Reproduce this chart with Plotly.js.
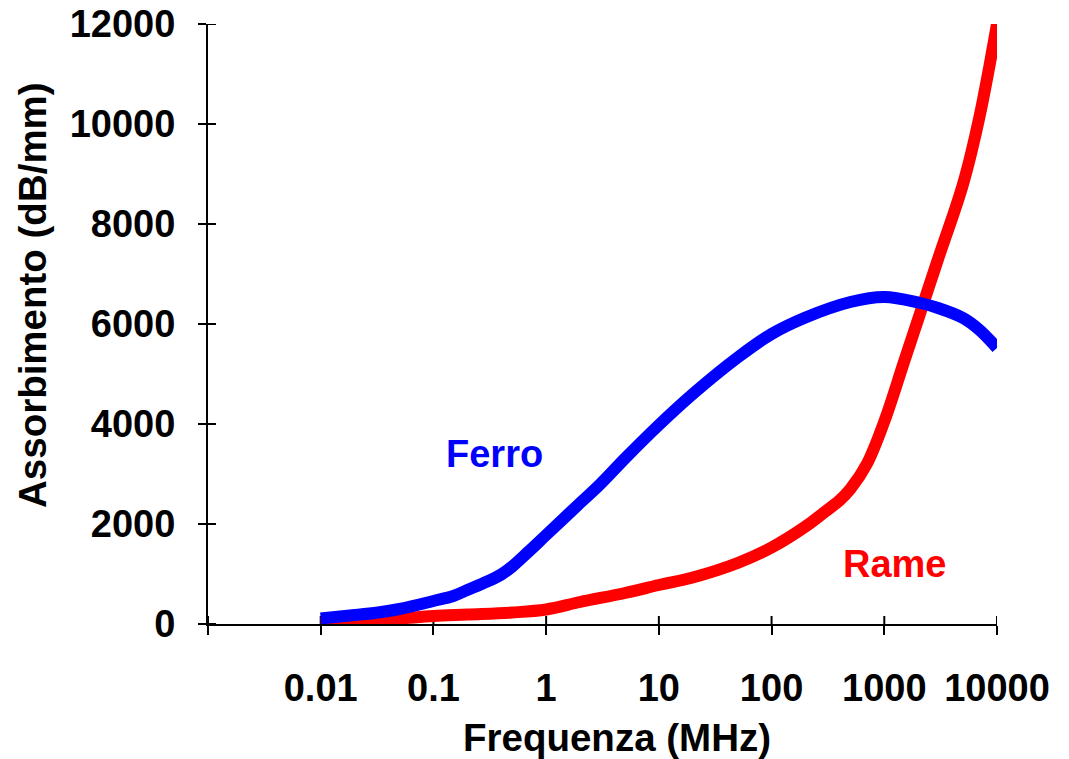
<!DOCTYPE html>
<html>
<head>
<meta charset="utf-8">
<script src="https://cdn.plot.ly/plotly-3.0.1.min.js"></script>
<style>html,body{margin:0;padding:0;background:#fff;}#chart{width:1069px;height:759px;}</style>
</head>
<body>
<div id="chart"></div>
<script>
// Frequency (MHz) and absorption (dB/mm)
var freqFerro = [0.01, 0.02, 0.03, 0.05, 0.1, 0.15, 0.2, 0.3, 0.4, 0.5, 0.7, 1, 2, 3, 5, 10, 20, 50, 100, 200, 500, 1000, 2000, 3000, 5000, 7000, 10000];
var ferro     = [110, 180, 220, 300, 460, 560, 680, 850, 990, 1150, 1450, 1780, 2420, 2790, 3310, 3980, 4600, 5330, 5800, 6130, 6440, 6540, 6430, 6320, 6120, 5880, 5520];

var freqRame = [0.01, 0.02, 0.05, 0.1, 0.2, 0.5, 1, 2, 5, 10, 20, 50, 100, 200, 300, 400, 500, 700, 1000, 1500, 2000, 3000, 5000, 7000, 10000];
var rame     = [20, 50, 110, 160, 190, 230, 290, 440, 620, 780, 930, 1220, 1530, 1950, 2250, 2470, 2700, 3200, 4050, 5250, 6100, 7300, 8800, 10150, 12000];

var xTickVals = [0.001, 0.01, 0.1, 1, 10, 100, 1000, 10000];
var xTickText = ['', '0.01', '0.1', '1', '10', '100', '1000', '10000'];
var yTickVals = [0, 2000, 4000, 6000, 8000, 10000, 12000];
var yTickText = ['0', '2000', '4000', '6000', '8000', '10000', '12000'];

var seriesNames = ['Ferro', 'Rame'];
var xTitle = 'Frequenza (MHz)';
var yTitle = 'Assorbimento (dB/mm)';

var FONT = 'Liberation Sans, Arial, Helvetica, sans-serif';

var traces = [
  {x: freqRame, y: rame, name: seriesNames[1], mode: 'lines', type: 'scatter',
   line: {color: '#ff0000', width: 12, shape: 'spline', smoothing: 1}, cliponaxis: false, hoverinfo: 'x+y'},
  {x: freqFerro, y: ferro, name: seriesNames[0], mode: 'lines', type: 'scatter',
   line: {color: '#0000ff', width: 12, shape: 'spline', smoothing: 1}, cliponaxis: false, hoverinfo: 'x+y'}
];

var tickFont = {family: FONT, size: 38, weight: 'bold', color: '#000'};
var titleFont = {family: FONT, size: 38.5, weight: 'bold', color: '#000'};

// inner halves of the cross-style tick marks (the axis draws the outer halves)
var innerTicks = [];
xTickVals.forEach(function (v) {
  innerTicks.push({type: 'line', layer: 'below', xref: 'x', yref: 'y', ysizemode: 'pixel', yanchor: yTickVals[0],
    x0: v, x1: v, y0: 0, y1: 8, line: {color: '#000', width: 2}});
});
yTickVals.forEach(function (v) {
  innerTicks.push({type: 'line', layer: 'below', xref: 'x', yref: 'y', xsizemode: 'pixel', xanchor: xTickVals[0],
    x0: 0, x1: 8, y0: v, y1: v, line: {color: '#000', width: 2}});
});

var layout = {
  width: 1069, height: 759,
  margin: {l: 208, r: 72, t: 24, b: 135},
  paper_bgcolor: '#ffffff', plot_bgcolor: '#ffffff',
  showlegend: false,
  font: {family: FONT, color: '#000000'},
  xaxis: {
    type: 'log', range: [-3, 4],
    tickmode: 'array', tickvals: xTickVals, ticktext: xTickText,
    ticks: 'outside', ticklen: 9, tickwidth: 2, tickcolor: '#000',
    showline: true, linecolor: '#000', linewidth: 2,
    showgrid: false, zeroline: false, layer: 'below traces',
    tickfont: tickFont,
    ticklabelstandoff: 20
  },
  yaxis: {
    range: [0, 12000],
    tickmode: 'array', tickvals: yTickVals, ticktext: yTickText,
    ticks: 'outside', ticklen: 8, tickwidth: 2, tickcolor: '#000',
    showline: true, linecolor: '#000', linewidth: 2,
    showgrid: false, zeroline: false, layer: 'below traces',
    tickfont: tickFont,
    ticklabelstandoff: 15
  },
  shapes: innerTicks,
  annotations: [
    {x: Math.log10(0.345), y: 3400, xref: 'x', yref: 'y', text: seriesNames[0], showarrow: false,
     font: {family: FONT, size: 38, weight: 'bold', color: '#0000ff'}},
    {x: Math.log10(1250), y: 1200, xref: 'x', yref: 'y', text: seriesNames[1], showarrow: false,
     font: {family: FONT, size: 38, weight: 'bold', color: '#ff0000'}},
    // axis titles (positions given in pixels, converted below)
    {x: 617, y: 737, xref: 'paper', yref: 'paper', text: xTitle, showarrow: false, font: titleFont,
     xanchor: 'center', yanchor: 'middle', name: 'xtitle'},
    {x: 32, y: 295, xref: 'paper', yref: 'paper', text: yTitle, showarrow: false, font: titleFont,
     textangle: -90, xanchor: 'center', yanchor: 'middle', name: 'ytitle'}
  ]
};

// convert pixel-placed title annotations to paper fractions
(function () {
  var pw = layout.width - layout.margin.l - layout.margin.r;
  var ph = layout.height - layout.margin.t - layout.margin.b;
  layout.annotations.forEach(function (a) {
    if (a.xref === 'paper') {
      a.x = (a.x - layout.margin.l) / pw;
      a.y = (layout.height - layout.margin.b - a.y) / ph;
    }
  });
})();

Plotly.newPlot('chart', traces, layout, {displayModeBar: false, staticPlot: true});
</script>
</body>
</html>
